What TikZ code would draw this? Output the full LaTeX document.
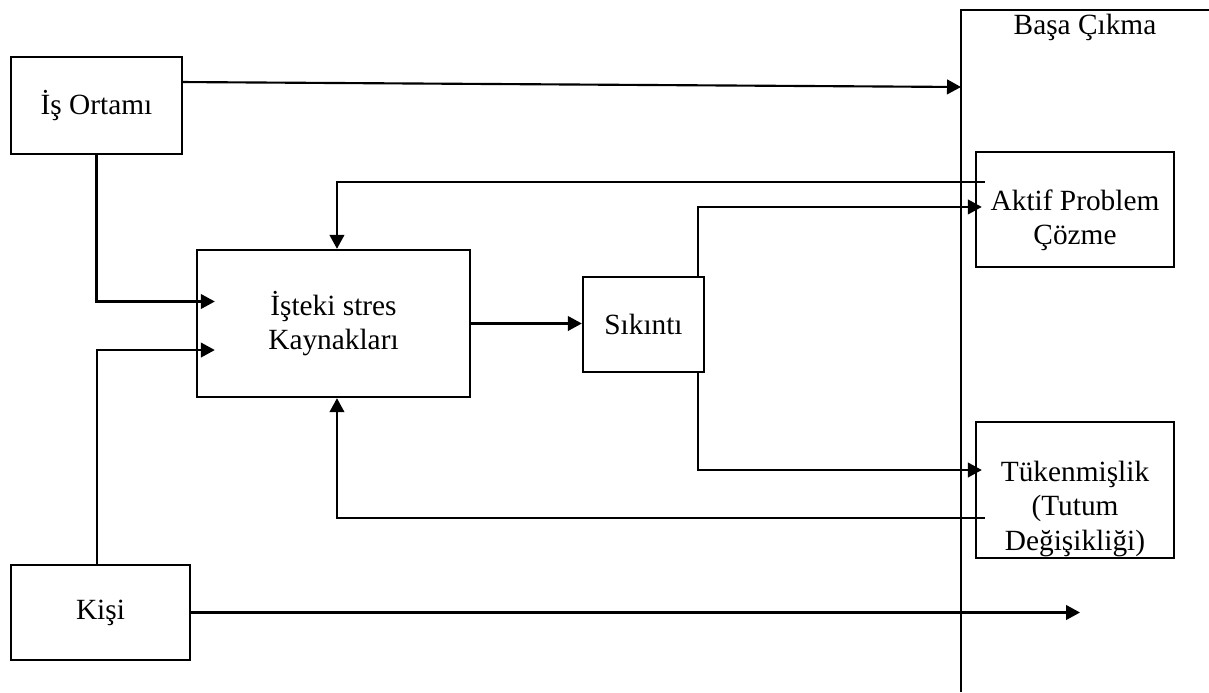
\documentclass[tikz,border=0pt]{standalone}
\usepackage{fontspec}
\setmainfont{Liberation Serif}
\usetikzlibrary{arrows.meta}

\begin{document}
\begin{tikzpicture}[>={Triangle[length=10.5pt,width=11pt]}, x=0.75pt, y=-0.75pt, line width=1.6pt,
	yazi/.style={font=\fontsize{22}{26}\selectfont, align=center},
	blok/.style={draw, line width=1.8pt, yazi, inner sep=0pt}]

\useasboundingbox (0,0) rectangle (1209,692);

% kutular
\node[blok, minimum width=128.25pt, minimum height=72.75pt] (ortam) at (96.5,105.5) {İş Ortamı};
\node[blok, minimum width=134.25pt, minimum height=71.25pt] (kisi) at (100.5,612.5) {Kişi};
\node[blok, minimum width=204.75pt, minimum height=110.25pt] (kaynak) at (333.5,323.5) {İşteki stres\\Kaynakları};
\node[blok, minimum width=90.75pt, minimum height=71.25pt] (sikinti) at (643.5,324.5) {Sıkıntı};
\node[blok, minimum width=148.5pt, minimum height=86.25pt,
	label={[yazi, yshift=-8pt]center:Aktif Problem\\Çözme}] (aktif) at (1075,209.5) {};
\node[blok, minimum width=148.5pt, minimum height=102pt,
	label={[yazi, yshift=-14pt]center:Tükenmişlik\\(Tutum\\Değişikliği)}] (tukenme) at (1075,490) {};

% basa cikma
\draw (1209,10) -- (961,10) -- (961,692);
\node[yazi] (basa) at (1085,27) {Başa Çıkma};
\coordinate (basaGiris) at (961,87);
\coordinate (kisiSon) at (1080,611);

% oklar
\draw[->] ([yshift=17.6pt]ortam.east) -- (basaGiris);
\draw[->] (ortam.south) |- ([xshift=14.25pt,yshift=16.5pt]kaynak.west);
\draw[->] ([xshift=-2.6pt]kisi.north) |- ([xshift=14.25pt,yshift=-19.9pt]kaynak.west);
\draw[->] (kaynak.east) -- (kaynak.east -| sikinti.west);
\draw[->] ([xshift=-5.25pt]sikinti.north east) |- ([xshift=5.25pt,yshift=1.9pt]aktif.west);
\draw[->] ([xshift=-5.25pt]sikinti.south east) |- ([xshift=5.25pt,yshift=15pt]tukenme.west);
\draw[->] ([xshift=7.5pt,yshift=20.6pt]aktif.west) -| ([xshift=2.6pt]kaynak.north);
\draw[->] ([xshift=7.5pt,yshift=-21pt]tukenme.west) -| ([xshift=2.6pt]kaynak.south);
\draw[->] (kisi.east) -- (kisi.east -| kisiSon);

\end{tikzpicture}
\end{document}
